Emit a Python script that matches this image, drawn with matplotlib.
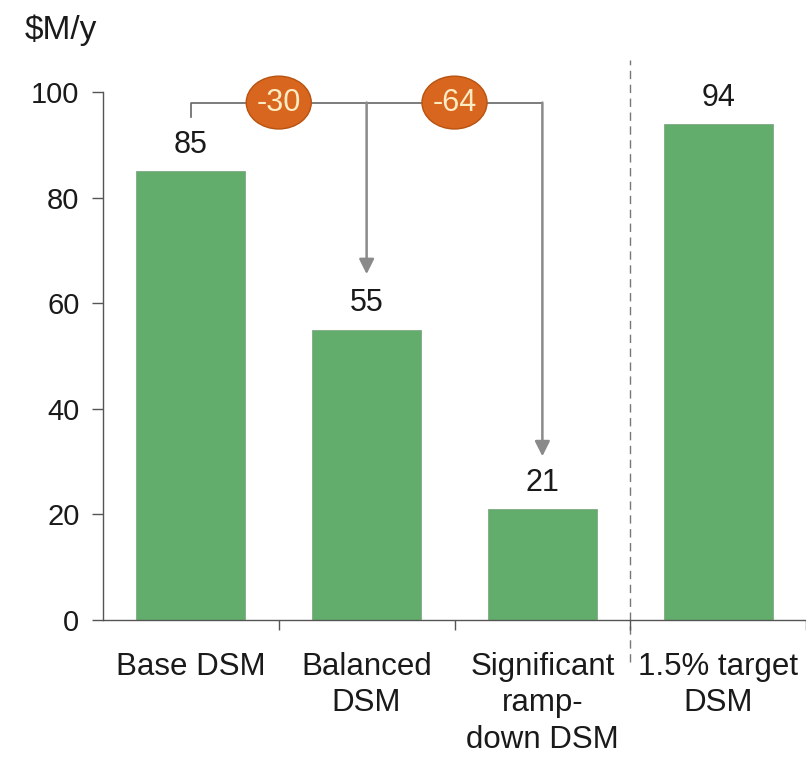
import matplotlib.pyplot as plt
from matplotlib.patches import Ellipse

plt.rcParams['font.family'] = ['Liberation Sans', 'DejaVu Sans']

# DSM spending scenarios, $M per year
categories = ['Base DSM', 'Balanced\nDSM', 'Significant\nramp-\ndown DSM', '1.5% target\nDSM']
values = [85, 55, 21, 94]
deltas = ['-30', '-64']

BAR = '#62ad6c'
ORANGE = '#d9661f'
GREY = '#8a8a8a'

fig = plt.figure(figsize=(8.06, 7.57), dpi=100)
ax = fig.add_axes([103/806, 137/757, 703/806, 528/757])

x = list(range(len(values)))
ax.bar(x, values, width=0.62, color=BAR, edgecolor='#7fa884', linewidth=0.6, zorder=2)

for xi, v in zip(x, values):
    ax.annotate(str(v), (xi, v), xytext=(0, 8), textcoords='offset points',
                ha='center', va='bottom', fontsize=22, color='#1a1a1a')

ax.set_xlim(-0.5, 3.5)
ax.set_ylim(0, 100)
ax.set_yticks([0, 20, 40, 60, 80, 100])
ax.tick_params(axis='y', labelsize=21, length=8, width=1, color='#555555', pad=9,
               labelcolor='#1a1a1a')
ax.set_xticks(x)
ax.set_xticklabels(categories, fontsize=22.5, linespacing=1.28, color='#1a1a1a')
ax.tick_params(axis='x', length=0, pad=23)
ax.set_xticks([0.5, 1.5, 2.5, 3.5], minor=True)
ax.tick_params(axis='x', which='minor', length=7, width=1, color='#555555')

for s in ['top', 'right']:
    ax.spines[s].set_visible(False)
for s in ['left', 'bottom']:
    ax.spines[s].set_color('#555555')
    ax.spines[s].set_linewidth(1)

# divider between scenarios and the target
ax.plot([2.5, 2.5], [-8, 106], ls=(0, (6, 4)), color='#777777', lw=1, clip_on=False, zorder=1)

# connector from base to the reduced scenarios
yc = 98
ax.plot([0, 0, 2], [95.3, yc, yc], color='#666666', lw=1.2, clip_on=False, zorder=3)
for xa, ya in [(1, 65.5), (2, 31)]:
    ax.annotate('', xy=(xa, ya), xytext=(xa, yc),
                arrowprops=dict(arrowstyle='-|>,head_length=0.9,head_width=0.45',
                                color=GREY, lw=1.8, shrinkA=0, shrinkB=0),
                annotation_clip=False, zorder=3)

for xe, d in zip([0.5, 1.5], deltas):
    ax.add_patch(Ellipse((xe, yc), 0.37, 10, facecolor=ORANGE, edgecolor='#b8520f',
                         lw=1, clip_on=False, zorder=4))
    ax.text(xe, yc, d, ha='center', va='center', fontsize=22, color='#fbecc4', zorder=5)

fig.text(25/806, 1 - 30/757, '$M/y', fontsize=24, ha='left', va='center', color='#1a1a1a')

fig.savefig('out.png', dpi=100)
